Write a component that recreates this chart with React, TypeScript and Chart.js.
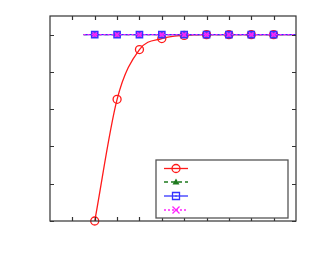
import React, { useEffect, useRef } from "react";
import { Chart, registerables } from "chart.js";

Chart.register(...registerables);

const xValues = [1.5, 2, 3, 4, 5, 6, 7, 8, 9, 10, 11];
const seriesA = [null, 0, 0.653, 0.92, 0.979, 0.996, 1, 1, 1, 1, 1];
const seriesB = [1, 1, 1, 1, 1, 1, 1, 1, 1, 1, 1];
const seriesC = [1, 1, 1, 1, 1, 1, 1, 1, 1, 1, 1];
const seriesD = [1, 1, 1, 1, 1, 1, 1, 1, 1, 1, 1];
const xTicks = [1, 2, 3, 4, 5, 6, 7, 8, 9, 10];
const yTicks = [0, 0.2, 0.4, 0.6, 0.8, 1.0];

const RED = "#ff1a1a";
const GREEN = "#1e7a1e";
const BLUE = "#3333ff";
const MAGENTA = "#ff22ff";

function toPoints(ys: (number | null)[]) {
  return xValues.map((x, i) => ({ x, y: ys[i] }));
}
function radii(r: number) {
  return xValues.map((x) => (x < 2 || x > 10 ? 0 : r));
}

function drawMarker(ctx: CanvasRenderingContext2D, kind: string, x: number, y: number, color: string) {
  ctx.save();
  ctx.strokeStyle = color;
  ctx.fillStyle = color;
  ctx.lineWidth = 1.3;
  ctx.setLineDash([]);
  ctx.beginPath();
  if (kind === "circle") {
    ctx.arc(x, y, 4, 0, Math.PI * 2);
    ctx.stroke();
  } else if (kind === "triangle") {
    ctx.moveTo(x, y - 3.5);
    ctx.lineTo(x + 3.5, y + 2.5);
    ctx.lineTo(x - 3.5, y + 2.5);
    ctx.closePath();
    ctx.fill();
  } else if (kind === "rect") {
    ctx.rect(x - 3.5, y - 3.5, 7, 7);
    ctx.stroke();
    ctx.fillRect(x - 0.7, y - 0.7, 1.4, 1.4);
  } else if (kind === "cross") {
    ctx.moveTo(x - 3.5, y - 3.5);
    ctx.lineTo(x + 3.5, y + 3.5);
    ctx.moveTo(x + 3.5, y - 3.5);
    ctx.lineTo(x - 3.5, y + 3.5);
    ctx.stroke();
  }
  ctx.restore();
}

const framePlugin = {
  id: "frame",
  afterDraw(chart: any) {
    const ctx = chart.ctx as CanvasRenderingContext2D;
    const { left, right, top, bottom } = chart.chartArea;
    const xs = chart.scales.x;
    const ys = chart.scales.y;
    ctx.save();
    ctx.strokeStyle = "#333333";
    ctx.lineWidth = 1.2;
    ctx.setLineDash([]);
    ctx.strokeRect(left, top, right - left, bottom - top);
    ctx.beginPath();
    const tl = 4;
    xTicks.forEach((v) => {
      const px = Math.round(xs.getPixelForValue(v)) + 0.5;
      ctx.moveTo(px, bottom);
      ctx.lineTo(px, bottom - tl);
      ctx.moveTo(px, top);
      ctx.lineTo(px, top + tl);
    });
    yTicks.forEach((v) => {
      const py = Math.round(ys.getPixelForValue(v)) + 0.5;
      ctx.moveTo(left, py);
      ctx.lineTo(left + tl, py);
      ctx.moveTo(right, py);
      ctx.lineTo(right - tl, py);
    });
    ctx.stroke();

    // legend
    const lx = 156, ly = 160, lw = 132, lh = 58;
    ctx.fillStyle = "#ffffff";
    ctx.fillRect(lx, ly, lw, lh);
    ctx.strokeStyle = "#555555";
    ctx.lineWidth = 1.3;
    ctx.strokeRect(lx, ly, lw, lh);
    const rows = [
      { color: RED, dash: [] as number[], kind: "circle", y: 168.5 },
      { color: GREEN, dash: [4, 3], kind: "triangle", y: 182 },
      { color: BLUE, dash: [] as number[], kind: "rect", y: 196 },
      { color: MAGENTA, dash: [2, 2], kind: "cross", y: 210 },
    ];
    rows.forEach((r) => {
      ctx.beginPath();
      ctx.strokeStyle = r.color;
      ctx.lineWidth = 1.3;
      ctx.setLineDash(r.dash);
      ctx.moveTo(164, r.y);
      ctx.lineTo(188, r.y);
      ctx.stroke();
      drawMarker(ctx, r.kind, 176, r.y, r.color);
    });
    ctx.restore();
  },
};

export default function App() {
  const ref = useRef<HTMLCanvasElement>(null);
  useEffect(() => {
    document.body.style.margin = "0";
    const chart = new Chart(ref.current!, {
      type: "scatter",
      data: {
        datasets: [
          {
            data: toPoints(seriesA),
            order: 4,
            showLine: true,
            borderColor: RED,
            backgroundColor: "rgba(0,0,0,0)",
            borderWidth: 1.3,
            pointStyle: "circle",
            pointRadius: radii(4),
            pointBorderWidth: 1.3,
            pointBorderColor: RED,
            cubicInterpolationMode: "monotone",
            clip: false,
          } as any,
          {
            data: toPoints(seriesB),
            order: 3,
            showLine: true,
            borderColor: GREEN,
            backgroundColor: GREEN,
            borderDash: [4, 3],
            borderWidth: 1.3,
            pointStyle: "triangle",
            pointRadius: radii(3.5),
            pointBorderWidth: 0,
            clip: false,
          } as any,
          {
            data: toPoints(seriesC),
            order: 2,
            showLine: true,
            borderColor: BLUE,
            backgroundColor: "rgba(170,60,230,0.85)",
            borderWidth: 1.3,
            pointStyle: "rect",
            pointRadius: radii(4.3),
            pointBorderWidth: 1.6,
            pointBorderColor: BLUE,
            clip: false,
          } as any,
          {
            data: toPoints(seriesD),
            order: 1,
            showLine: true,
            borderColor: MAGENTA,
            backgroundColor: MAGENTA,
            borderDash: [2, 2],
            borderWidth: 1.3,
            pointStyle: "crossRot",
            pointRadius: radii(3.2),
            pointBorderWidth: 1.3,
            pointBorderColor: MAGENTA,
            clip: false,
          } as any,
        ],
      },
      options: {
        animation: false,
        responsive: false,
        maintainAspectRatio: false,
        layout: { padding: { left: 50, top: 16, right: 17, bottom: 42 } },
        plugins: { legend: { display: false }, tooltip: { enabled: false } },
        scales: {
          x: { type: "linear", min: 0, max: 11, display: false },
          y: { type: "linear", min: 0, max: 1.1, display: false },
        },
      },
      plugins: [framePlugin],
    });
    return () => chart.destroy();
  }, []);
  return <canvas ref={ref} width={313} height={263} style={{ display: "block" }} />;
}
